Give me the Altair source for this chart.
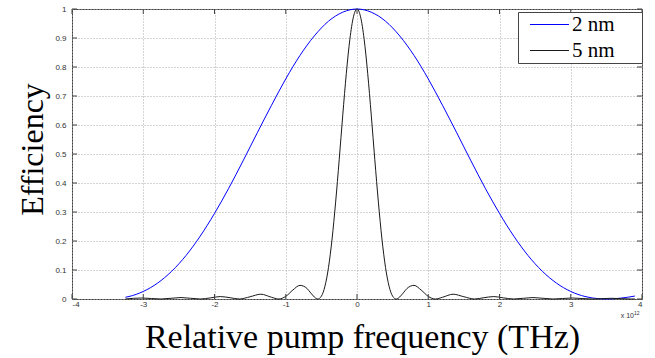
import altair as alt
import pandas as pd

# ---- data (x in units of 1e12 Hz) ----
BLUE_X = [-3.25, -3.2, -3.0, -2.8, -2.6, -2.4, -2.2, -2.0, -1.8, -1.6, -1.4, -1.2, -1.0, -0.8,
          -0.6, -0.4, -0.2, 0.0, 0.2, 0.4, 0.6, 0.8, 1.0, 1.2, 1.4, 1.6, 1.8, 2.0, 2.2, 2.4,
          2.6, 2.8, 3.0, 3.2, 3.4, 3.5, 3.6, 3.8, 3.9]
BLUE_Y = [0.006, 0.0086, 0.026, 0.0547, 0.0959, 0.150, 0.217, 0.295, 0.382, 0.476, 0.573, 0.668,
          0.759, 0.840, 0.907, 0.958, 0.989, 1.0, 0.989, 0.958, 0.907, 0.840, 0.759, 0.668,
          0.573, 0.476, 0.382, 0.295, 0.217, 0.150, 0.0959, 0.0547, 0.026, 0.0086, 0.0009,
          0.0, 0.0008, 0.0061, 0.0101]

BLACK_X = [-3.25, -3.02, -2.75, -2.47, -2.2, -2.06, -1.92, -1.78, -1.65, -1.5, -1.35, -1.2,
           -1.1, -1.0, -0.9, -0.8, -0.7, -0.65, -0.55, -0.5, -0.45, -0.4, -0.35, -0.3, -0.25,
           -0.2, -0.15, -0.1, -0.05, 0.0, 0.05, 0.1, 0.15, 0.2, 0.25, 0.3, 0.35, 0.4, 0.45,
           0.5, 0.55, 0.65, 0.7, 0.8, 0.9, 1.0, 1.1, 1.2, 1.35, 1.5, 1.65, 1.78, 1.92, 2.06,
           2.2, 2.47, 2.75, 3.02, 3.3, 3.57, 3.85, 3.9]
BLACK_Y = [0.0002, 0.0034, 0.0, 0.005, 0.0, 0.0037, 0.0084, 0.0044, 0.0, 0.0078, 0.0165, 0.006,
           0.0, 0.009, 0.031, 0.047, 0.036, 0.021, 0.0, 0.0097, 0.044, 0.109, 0.207, 0.334,
           0.480, 0.634, 0.778, 0.896, 0.973, 1.0, 0.973, 0.896, 0.778, 0.634, 0.480, 0.334,
           0.207, 0.109, 0.044, 0.0097, 0.0, 0.021, 0.036, 0.047, 0.031, 0.009, 0.0, 0.006,
           0.0165, 0.0078, 0.0, 0.0044, 0.0084, 0.0037, 0.0, 0.005, 0.0, 0.0034, 0.0, 0.0024,
           0.0, 0.0002]

SERIES = ["2 nm", "5 nm"]
COLORS = ["#0000ff", "#1a1a1a"]
X_TICKS = [-4, -3, -2, -1, 0, 1, 2, 3, 4]
Y_TICKS = [0, 0.1, 0.2, 0.3, 0.4, 0.5, 0.6, 0.7, 0.8, 0.9, 1]

W, H = 570, 290

df = pd.concat([
    pd.DataFrame({"x": BLUE_X, "y": BLUE_Y, "s": SERIES[0], "o": 0}),
    pd.DataFrame({"x": BLACK_X, "y": BLACK_Y, "s": SERIES[1], "o": 1}),
])

xscale = alt.Scale(domain=[-4, 4], nice=False, zero=False)
yscale = alt.Scale(domain=[0, 1], nice=False)

AX_X = alt.Axis(
    values=X_TICKS, title="Relative pump frequency (THz)", titleFontSize=34,
    titleX=290, titleY=48, titleAlign="center", titleBaseline="alphabetic",
    labelPadding=1, labelExpr="datum.value", labelOverlap=False)
AX_Y = alt.Axis(
    values=Y_TICKS, title="Efficiency", titleFontSize=32, titleAngle=-90,
    titleX=-30, titleY=140, titleAlign="center", titleBaseline="alphabetic",
    labelPadding=6, format="~g", labelOverlap=False)

lines = alt.Chart(df).mark_line(strokeWidth=1, interpolate="monotone").encode(
    x=alt.X("x:Q", scale=xscale, axis=AX_X),
    y=alt.Y("y:Q", scale=yscale, axis=AX_Y),
    color=alt.Color("s:N", scale=alt.Scale(domain=SERIES, range=COLORS), legend=alt.Legend(
        orient="none", legendX=446, legendY=3,
        title="MM", titleColor="white", titleOrient="right", titleFontSize=12,
        titleFont="Liberation Serif", titlePadding=2,
        symbolType="M-4,0H4", symbolSize=95, symbolStrokeWidth=1,
        labelFont="Liberation Serif", labelFontSize=21, labelColor="black",
        strokeColor="#444", fillColor="white", padding=2, rowPadding=4,
        symbolOffset=19, labelOffset=12)),
    detail="s:N",
    order="o:Q",
)

xt = pd.DataFrame({"x": X_TICKS})
yt = pd.DataFrame({"y": Y_TICKS})
tb = alt.Chart(xt).mark_rule(color="#404040", strokeWidth=1).encode(
    x=alt.X("x:Q", scale=xscale, axis=AX_X), y=alt.value(H), y2=alt.value(H - 5))
tt = alt.Chart(xt).mark_rule(color="#404040", strokeWidth=1).encode(
    x=alt.X("x:Q", scale=xscale, axis=AX_X), y=alt.value(0), y2=alt.value(5))
tl = alt.Chart(yt).mark_rule(color="#404040", strokeWidth=1).encode(
    y=alt.Y("y:Q", scale=yscale, axis=AX_Y), x=alt.value(0), x2=alt.value(5))
tr = alt.Chart(yt).mark_rule(color="#404040", strokeWidth=1).encode(
    y=alt.Y("y:Q", scale=yscale, axis=AX_Y), x=alt.value(W - 5), x2=alt.value(W))

exp1 = alt.Chart(xt.head(1)).mark_text(
    text="x 10", fontSize=7, font="Liberation Sans", color="#333", align="right", baseline="middle"
).encode(x=alt.value(W - 8), y=alt.value(H + 17))
exp2 = alt.Chart(xt.head(1)).mark_text(
    text="12", fontSize=5, font="Liberation Sans", color="#333", align="left", baseline="middle"
).encode(x=alt.value(W - 8), y=alt.value(H + 14))

chart = alt.layer(lines, tb, tt, tl, tr, exp1, exp2).properties(
    width=W, height=H,
    autosize=alt.AutoSizeParams(type="none"),
    padding={"left": 72, "top": 9, "right": 13, "bottom": 59},
).configure_view(
    stroke="#404040", strokeWidth=1
).configure_axis(
    grid=True, gridColor="#a8a8a8", gridDash=[1, 2], gridWidth=1,
    domain=False, ticks=False,
    labelFont="Liberation Sans", labelFontSize=8, labelColor="#333",
    titleFont="Liberation Serif", titleFontWeight="normal", titleColor="black",
)

chart.save("out.html", embed_options={"renderer": "svg", "actions": False})
